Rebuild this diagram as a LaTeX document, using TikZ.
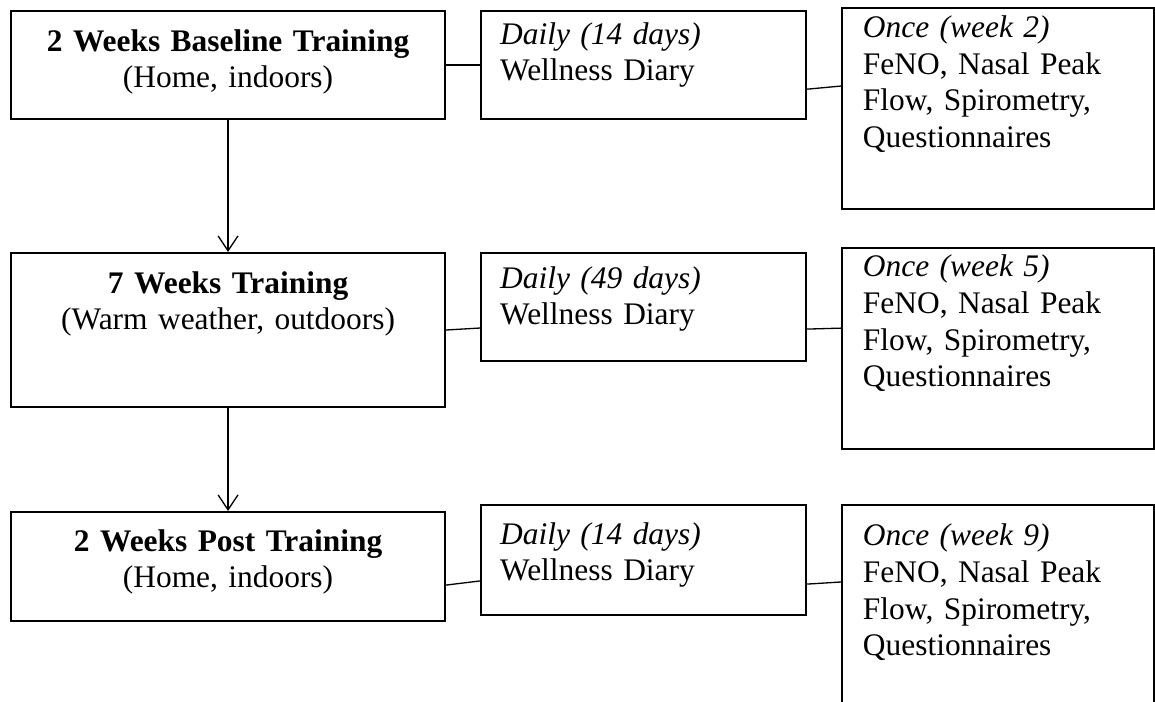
\documentclass[tikz,border=0pt]{standalone}
\usepackage{fontspec}
\setmainfont{Liberation Serif}
\usetikzlibrary{arrows.meta}

\begin{document}
\begin{tikzpicture}[x=0.382pt,y=-0.382pt,>={Straight Barb[length=5.7pt,width=7.6pt]},
  box/.style={draw,line width=0.8pt,anchor=north west,inner ysep=0pt,font=\fontsize{12}{13.8}\selectfont},
  phase/.style={box,inner xsep=0pt,text width=165.8pt,align=center},
  diary/.style={box,inner xsep=7.3pt,text width=109.6pt,align=left},
  tests/.style={box,inner xsep=8pt,text width=103.2pt,align=left,font=\fontsize{12}{14}\selectfont},
  link/.style={line width=0.5pt}]
\path[use as bounding box,clip] (0,0) rectangle (1155,702);
\node[phase,text height=15.3pt,text depth=26pt] (base) at (10,10) {\textbf{2 Weeks Baseline Training}\\(Home, indoors)};
\node[phase,text height=15.3pt,text depth=43.5pt] (warm) at (10,252) {\textbf{7 Weeks Training}\\(Warm weather, outdoors)};
\node[phase,text height=14.9pt,text depth=26.7pt] (post) at (10,511) {\textbf{2 Weeks Post Training}\\(Home, indoors)};
\node[diary,text height=12.6pt,text depth=28.7pt] (diaryA) at (480,10) {\textit{Daily (14 days)}\\Wellness Diary};
\node[diary,text height=13.4pt,text depth=27.9pt] (diaryB) at (480,252) {\textit{Daily (49 days)}\\Wellness Diary};
\node[diary,text height=14.9pt,text depth=27.1pt] (diaryC) at (480,504) {\textit{Daily (14 days)}\\Wellness Diary};
\node[tests,text height=11.2pt,text depth=65.6pt] (testsA) at (841,7) {\textit{Once (week 2)}\\FeNO, Nasal Peak\\Flow, Spirometry,\\Questionnaires};
\node[tests,text height=11pt,text depth=65.8pt] (testsB) at (841,247) {\textit{Once (week 5)}\\FeNO, Nasal Peak\\Flow, Spirometry,\\Questionnaires};
\node[tests,text height=15.6pt,text depth=61.2pt] (testsC) at (841,504) {\textit{Once (week 9)}\\FeNO, Nasal Peak\\Flow, Spirometry,\\Questionnaires};
\draw[link,->] (base.south) -- (warm.north);
\draw[link,->] (warm.south) -- (post.north);
\draw[link] (base.east) -- (diaryA.west);
\draw[link] (warm.east) -- ([yshift=-8pt]diaryB.west);
\draw[link] ([yshift=-7.1pt]post.east) -- ([yshift=-8pt]diaryC.west);
\draw[link] ([yshift=-9.2pt]diaryA.east) -- ([yshift=8.6pt]testsA.west);
\draw[link] ([yshift=-8.4pt]diaryB.east) -- ([yshift=7.8pt]testsB.west);
\draw[link] ([yshift=-9.2pt]diaryC.east) -- ([yshift=9pt]testsC.west);
\end{tikzpicture}
\end{document}
